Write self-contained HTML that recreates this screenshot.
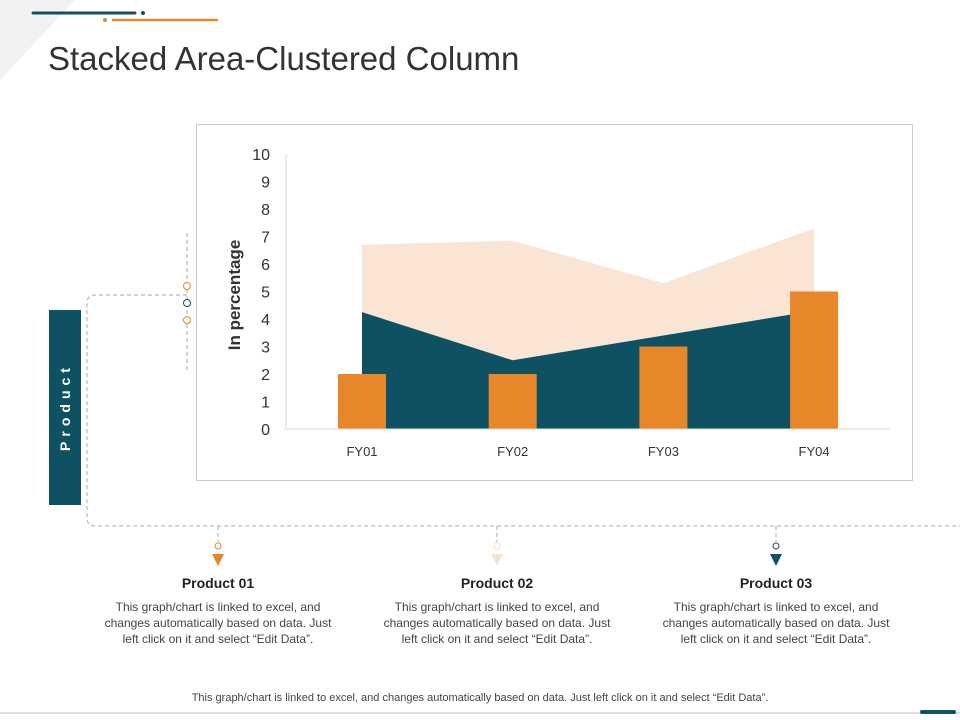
<!DOCTYPE html>
<html><head><meta charset="utf-8"><style>
body{margin:0;background:#fff;font-family:"Liberation Sans",sans-serif;}
#root{position:relative;width:960px;height:720px;overflow:hidden;background:#fff}
.abs{position:absolute}
.pt{position:absolute;width:240px;text-align:center;color:#222}
.pt b{display:block;font-size:14px;margin-bottom:8px}
.pt span{display:block;font-size:12px;line-height:16px;color:#444}
</style></head><body>
<div id="root">
<svg class="abs" style="left:0;top:0" width="960" height="720">
 <polygon points="0,0 75,0 0,80" fill="#f2f2f2"/>
 <line x1="33" y1="13" x2="135" y2="13" stroke="#0e5163" stroke-width="3" stroke-linecap="round"/>
 <circle cx="143" cy="13" r="2" fill="#0e5163"/>
 <circle cx="105" cy="20" r="2" fill="#e8872a"/>
 <line x1="113" y1="20" x2="217" y2="20" stroke="#e8872a" stroke-width="2.5" stroke-linecap="round"/>
 <g fill="none" stroke="#aaa" stroke-dasharray="4,3" stroke-width="1">
  <line x1="187" y1="233" x2="187" y2="370"/>
  <path d="M187,295 H95 Q87,295 87,303 V518 Q87,526 95,526 H960"/>
  <line x1="218" y1="526" x2="218" y2="542"/>
  <line x1="497" y1="526" x2="497" y2="542"/>
  <line x1="776" y1="526" x2="776" y2="542"/>
 </g>
 <circle cx="187" cy="286" r="3.5" fill="#fff" stroke="#e8872a"/>
 <circle cx="187" cy="303" r="3.5" fill="#fff" stroke="#0e5163"/>
 <circle cx="187" cy="320" r="3.5" fill="#fff" stroke="#e8872a"/>
 <circle cx="218" cy="546" r="3" fill="#fff" stroke="#e8872a"/>
 <circle cx="497" cy="546" r="3" fill="#fff" stroke="#f8dcc6"/>
 <circle cx="776" cy="546" r="3" fill="#fff" stroke="#0e5163"/>
 <polygon points="212,554 224,554 218,566" fill="#e8872a"/>
 <polygon points="491,554 503,554 497,566" fill="#f8e2d2"/>
 <polygon points="770,554 782,554 776,566" fill="#0e5163"/>
 <line x1="0" y1="713" x2="960" y2="713" stroke="#bbb" stroke-width="1"/>
 <rect x="920" y="710" width="36" height="4" rx="2" fill="#0e5163"/>
</svg>
<div class="abs" style="left:48px;top:40px;font-size:33px;color:#333;">Stacked Area-Clustered Column</div>
<div class="abs" style="left:49px;top:310px;width:32px;height:195px;background:#0e5163;"></div>
<div class="abs" style="left:65px;top:407px;transform:translate(-50%,-50%) rotate(-90deg);color:#fff;font-weight:bold;font-size:14px;letter-spacing:5px;white-space:nowrap">Product</div>
<div class="abs" style="left:196px;top:124px;width:715px;height:355px;border:1px solid #ccc"></div>
<svg id="chart" class="abs" style="left:0;top:0" width="960" height="720"></svg>
<div class="pt" style="left:98px;top:575px"><b>Product 01</b><span>This graph/chart is linked to excel, and changes automatically based on data. Just left click on it and select “Edit Data”.</span></div>
<div class="pt" style="left:377px;top:575px"><b>Product 02</b><span>This graph/chart is linked to excel, and changes automatically based on data. Just left click on it and select “Edit Data”.</span></div>
<div class="pt" style="left:656px;top:575px"><b>Product 03</b><span>This graph/chart is linked to excel, and changes automatically based on data. Just left click on it and select “Edit Data”.</span></div>
<div class="abs" style="left:0;width:960px;top:692px;text-align:center;font-size:11px;color:#444">This graph/chart is linked to excel, and changes automatically based on data. Just left click on it and select “Edit Data”.</div>
</div>
<script>
const categories=["FY01","FY02","FY03","FY04"];
const series1=[4.25,2.5,3.4,4.3];
const series2=[2.45,4.35,1.9,3.0];
const columns=[2,2,3,5];
const yTicks=[0,1,2,3,4,5,6,7,8,9,10];
const NS="http://www.w3.org/2000/svg";
const svg=document.getElementById('chart');
const y0=429,yTop=154,x0=286,xEnd=890;
const ys=v=>y0-(v/10)*(y0-yTop);
const xs=i=>362+i*150.7;
function mk(t,a){const e=document.createElementNS(NS,t);for(const k in a)e.setAttribute(k,a[k]);svg.appendChild(e);return e;}
const tot=series1.map((v,i)=>v+series2[i]);
let p2=categories.map((c,i)=>xs(i)+','+ys(tot[i])).join(' ')+' '+categories.map((c,i)=>xs(3-i)+','+ys(series1[3-i])).join(' ');
let a2=mk('polygon',{points:p2,fill:'#fae5d5'});


let p1=categories.map((c,i)=>xs(i)+','+ys(series1[i])).join(' ')+` ${xs(3)},${y0} ${xs(0)},${y0}`;
let a1=mk('polygon',{points:p1,fill:'#0e5163'});


columns.forEach((v,i)=>{
 const r=mk('rect',{x:xs(i)-24,y:ys(v),width:48,height:y0-ys(v),fill:'#e8872a'});
 
 
 const t=mk('text',{x:xs(i),y:456,'text-anchor':'middle','font-size':13,fill:'#333','font-family':'Liberation Sans'});
 t.textContent=categories[i];
 
 
});
const ax=mk('line',{x1:x0,y1:y0,x2:xEnd,y2:y0,stroke:'#d9d9d9'});


const ay=mk('line',{x1:x0,y1:yTop,x2:x0,y2:y0,stroke:'#d9d9d9'});


yTicks.forEach(v=>{
 const t=mk('text',{x:270,y:ys(v)+6,'text-anchor':'end','font-size':16,fill:'#333','font-family':'Liberation Sans'});
 t.textContent=v;
 
 
});
const yt=mk('text',{x:0,y:0,transform:'translate(240,295) rotate(-90)','text-anchor':'middle','font-size':17,'font-weight':'bold',fill:'#333','font-family':'Liberation Sans'});
yt.textContent='In percentage';


</script>
</body></html>
